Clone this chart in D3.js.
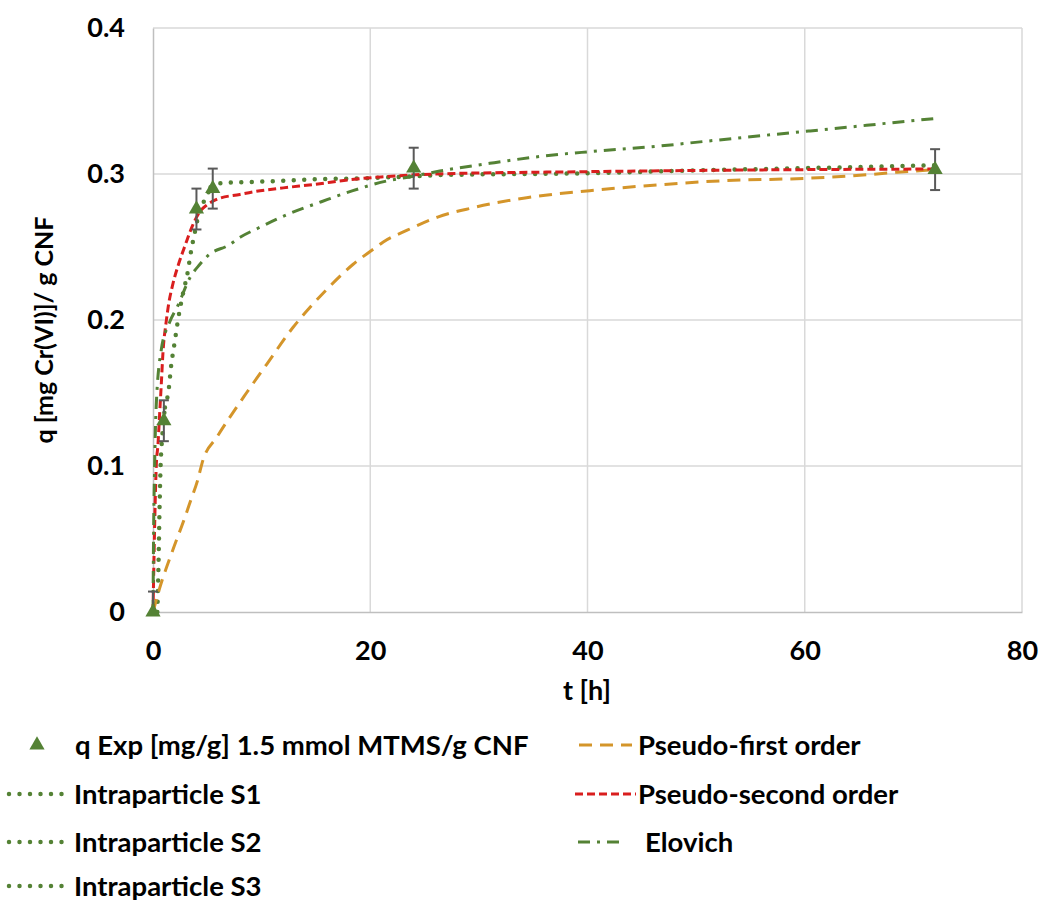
<!DOCTYPE html>
<html lang="en">
<head>
<meta charset="utf-8">
<title>Cr(VI) adsorption kinetics</title>
<script src="https://d3js.org/d3.v7.min.js"></script>
<style>
  body { margin: 0; background: #fff; }
  text { font-family: Lato, "Open Sans", sans-serif; font-weight: bold; fill: #000; }
</style>
</head>
<body>
<div id="chart"></div>
<script>

// experimental points
var tExp = [0, 1, 4, 5.5, 24, 72];
var qExp = [0, 0.131, 0.276, 0.290, 0.304, 0.303];
var qErr = [0.014, 0.014, 0.014, 0.0137, 0.014, 0.014];

// model curves
var pfoT = [0, 0.6, 1.8, 2.8, 3.5, 4.1, 4.6, 5.9, 8.6, 10.5, 12.9, 14.5, 16, 18.4, 20.3, 21.2, 23.4, 26.2, 29.4, 34.4, 40.2, 46.4, 52.5, 60, 64.2, 68.5, 72];
var pfoQ = [0, 0.016, 0.042, 0.062, 0.077, 0.090, 0.104, 0.120, 0.150, 0.170, 0.195, 0.209, 0.221, 0.238, 0.2486, 0.2535, 0.2615, 0.2705, 0.2768, 0.2838, 0.2886, 0.2925, 0.2954, 0.297, 0.2986, 0.3012, 0.303];

var psoT = [0, 0.1, 0.2, 0.3, 0.46, 0.6, 0.77, 0.92, 1.2, 1.4, 1.84, 2.3, 3.0, 3.6, 4.4, 5, 6, 8, 9.4, 12, 15, 18, 21, 26, 40, 60, 72];
var psoQ = [0, 0.04, 0.075, 0.1, 0.115, 0.134, 0.157, 0.178, 0.198, 0.209, 0.225, 0.237, 0.252, 0.264, 0.275, 0.279, 0.283, 0.286, 0.288, 0.2905, 0.293, 0.296, 0.298, 0.300, 0.3016, 0.303, 0.3034];

var eloT = [0, 0.05, 0.15, 0.3, 0.77, 1.5, 2.3, 3.4, 4.3, 5.2, 6.9, 8.1, 9.7, 12.6, 15.5, 18.4, 21.5, 23.6, 26.4, 31, 35.6, 40.2, 46.4, 51, 55, 60.5, 64.2, 67.2, 72];
var eloQ = [0, 0.05, 0.1, 0.142, 0.18, 0.198, 0.21, 0.229, 0.238, 0.245, 0.251, 0.257, 0.263, 0.273, 0.281, 0.2886, 0.2952, 0.298, 0.302, 0.3073, 0.312, 0.3153, 0.319, 0.3225, 0.3255, 0.3295, 0.3322, 0.3345, 0.338];

var s1T = [0.4, 0.5, 0.6, 0.7, 0.85, 1.1];
var s1Q = [0, 0.03, 0.07, 0.1, 0.12, 0.14];
var s2T = [1.1, 1.47, 1.66, 2.0, 2.3, 2.76, 3.2, 3.5, 3.85, 4.2, 4.7, 5.3];
var s2Q = [0.14, 0.154, 0.168, 0.185, 0.2, 0.218, 0.233, 0.247, 0.26, 0.272, 0.2815, 0.29];
var s3T = [5.3, 6.5, 9, 15, 19, 22.7, 26.7, 40, 50, 60, 72];
var s3Q = [0.291, 0.294, 0.2945, 0.2964, 0.297, 0.298, 0.2993, 0.3005, 0.3025, 0.304, 0.306];

var xTicks = [0, 20, 40, 60, 80];
var yTicks = [0, 0.1, 0.2, 0.3, 0.4];

var green = "#548235", orange = "#D4952A", red = "#D91E1E";

var width = 1041, height = 904;
var svg = d3.select("#chart").append("svg")
  .attr("width", width)
  .attr("height", height);

var x = d3.scaleLinear().domain([0, 80]).range([153, 1022]);
var y = d3.scaleLinear().domain([0, 0.4]).range([612, 28]);

// gridlines
svg.append("g")
  .selectAll("line")
  .data(yTicks.slice(1))
  .enter().append("line")
  .attr("x1", x(0)).attr("x2", x(80))
  .attr("y1", function(d) { return y(d); })
  .attr("y2", function(d) { return y(d); })
  .attr("stroke", "#d9d9d9").attr("stroke-width", 1.5);
svg.append("g")
  .selectAll("line")
  .data(xTicks.slice(1))
  .enter().append("line")
  .attr("y1", y(0)).attr("y2", y(0.4))
  .attr("x1", function(d) { return x(d); })
  .attr("x2", function(d) { return x(d); })
  .attr("stroke", "#d9d9d9").attr("stroke-width", 1.5);

// axes (no ticks, just the lines and labels)
var xAxis = svg.append("g")
  .attr("transform", "translate(0," + y(0) + ")")
  .call(d3.axisBottom(x).tickValues(xTicks).tickSize(0).tickPadding(29).tickFormat(d3.format("d")));
var yAxis = svg.append("g")
  .attr("transform", "translate(" + x(0) + ",0)")
  .call(d3.axisLeft(y).tickValues(yTicks).tickSize(0).tickPadding(28).tickFormat(function(d) { return d === 0 ? "0" : d3.format(".1f")(d); }));
[xAxis, yAxis].forEach(function(a) {
  a.select(".domain").attr("stroke", "#bfbfbf").attr("stroke-width", 1.5);
  a.selectAll("text").style("font-size", "27px").style("font-family", "Lato, sans-serif").style("font-weight", "bold").attr("fill", "#000");
});

svg.append("text")
  .attr("x", 587).attr("y", 700)
  .attr("text-anchor", "middle")
  .style("font-size", "27px")
  .text("t [h]");
svg.append("text")
  .attr("transform", "translate(53,330) rotate(-90)")
  .attr("text-anchor", "middle")
  .style("font-size", "25px")
  .text("q [mg Cr(VI)]/ g CNF");

// series styles
var series = [
  {name: "Intraparticle S1", t: s1T, q: s1Q, color: green, w: 4.5, dash: "0 10.5", cap: "round"},
  {name: "Intraparticle S2", t: s2T, q: s2Q, color: green, w: 4.5, dash: "0 10.5", cap: "round"},
  {name: "Intraparticle S3", t: s3T, q: s3Q, color: green, w: 4.5, dash: "0 10.5", cap: "round"},
  {name: "Pseudo-first order", t: pfoT, q: pfoQ, color: orange, w: 3, dash: "13 8", cap: "butt"},
  {name: "Pseudo-second order", t: psoT, q: psoQ, color: red, w: 3, dash: "8 4", cap: "butt"},
  {name: "Elovich", t: eloT, q: eloQ, color: green, w: 3, dash: "12 7 3 7", cap: "butt"}
];

var line = d3.line()
  .x(function(d) { return x(d[0]); })
  .y(function(d) { return y(d[1]); })
  .curve(d3.curveMonotoneX);

series.forEach(function(s) {
  svg.append("path")
    .datum(d3.zip(s.t, s.q))
    .attr("d", line)
    .attr("fill", "none")
    .attr("stroke", s.color)
    .attr("stroke-width", s.w)
    .attr("stroke-dasharray", s.dash)
    .attr("stroke-linecap", s.cap);
});

// error bars, clipped to the plot area like the original
svg.append("clipPath").attr("id", "plotclip")
  .append("rect").attr("x", x(0) - 20).attr("y", y(0.4)).attr("width", x(80) - x(0) + 40).attr("height", y(0) - y(0.4));
var exp = d3.zip(tExp, qExp, qErr);
var eb = svg.append("g").attr("stroke", "#595959").attr("stroke-width", 2).attr("clip-path", "url(#plotclip)");
exp.forEach(function(d) {
  eb.append("line").attr("x1", x(d[0])).attr("x2", x(d[0])).attr("y1", y(d[1] - d[2])).attr("y2", y(d[1] + d[2]));
  eb.append("line").attr("x1", x(d[0]) - 5).attr("x2", x(d[0]) + 5).attr("y1", y(d[1] + d[2])).attr("y2", y(d[1] + d[2]));
  eb.append("line").attr("x1", x(d[0]) - 5).attr("x2", x(d[0]) + 5).attr("y1", y(d[1] - d[2])).attr("y2", y(d[1] - d[2]));
});

var tri = d3.symbol().type(d3.symbolTriangle).size(100);
svg.append("g")
  .selectAll("path")
  .data(exp)
  .enter().append("path")
  .attr("d", tri)
  .attr("transform", function(d) { return "translate(" + x(d[0]) + "," + y(d[1]) + ")"; })
  .attr("fill", green);

// legend
var legend = svg.append("g").style("font-size", "27.5px");
function legendLine(x1, x2, yy, s) {
  legend.append("line")
    .attr("x1", x1).attr("x2", x2).attr("y1", yy).attr("y2", yy)
    .attr("stroke", s.color).attr("stroke-width", s.w)
    .attr("stroke-dasharray", s.dash).attr("stroke-linecap", s.cap);
}
function legendText(xx, yy, txt) {
  legend.append("text").attr("x", xx).attr("y", yy).attr("dy", "0.35em").text(txt);
}

legend.append("path").attr("d", tri).attr("fill", green).attr("transform", "translate(37,745)");
legendText(75, 745, "q Exp [mg/g] 1.5 mmol MTMS/g CNF");

legendLine(579, 632, 745, series[3]);
legendText(638, 745, series[3].name);
legendLine(575, 636, 794, series[4]);
legendText(638, 794, series[4].name);
legendLine(578, 622, 842, series[5]);
legendText(645, 842, series[5].name);

[794, 842, 886].forEach(function(yy, i) {
  legendLine(9, 70, yy, series[i]);
  legendText(74, yy, series[i].name);
});

</script>
</body>
</html>
